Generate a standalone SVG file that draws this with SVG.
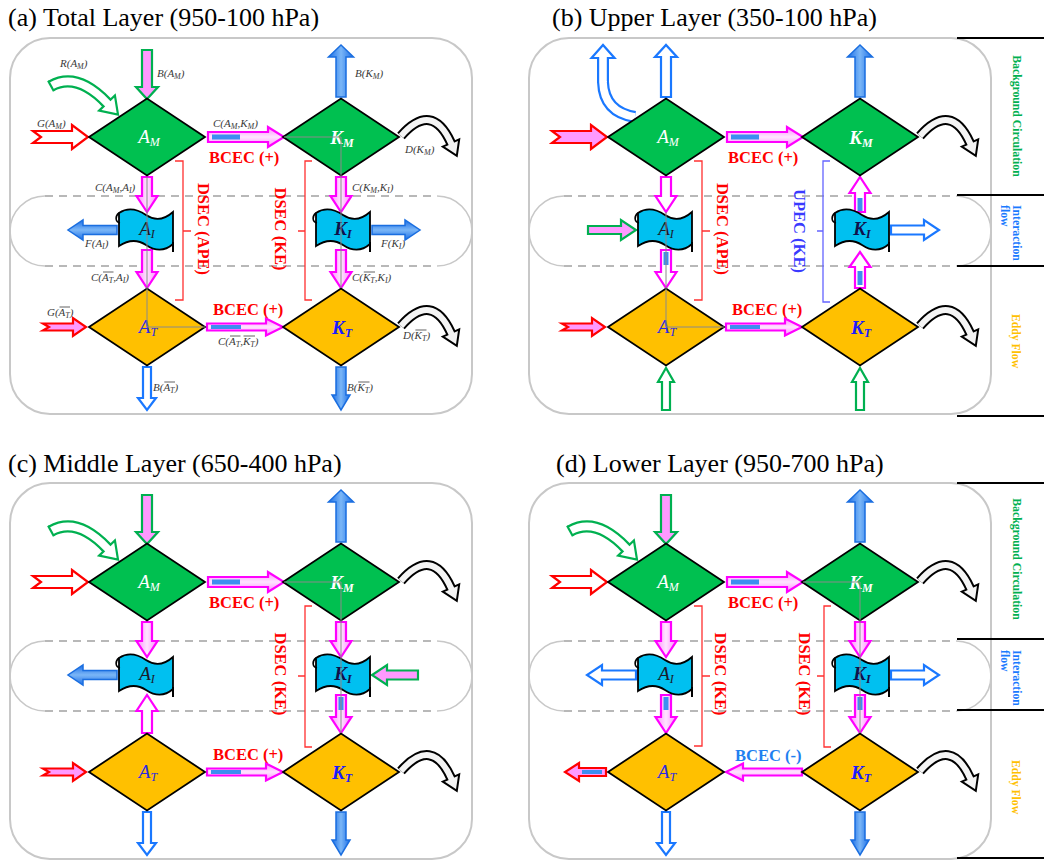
<svg xmlns="http://www.w3.org/2000/svg" xmlns:xlink="http://www.w3.org/1999/xlink" width="1044" height="861" viewBox="0 0 1044 861">
<defs>
<style>
.t{font-family:"Liberation Serif","Times New Roman",serif;}
.title{font-size:26px;fill:#000;}
.lbl{font-size:11px;font-style:italic;fill:#3a3a3a;}
.sub{font-size:8px;}
.box{fill:none;stroke:#c8c8c8;stroke-width:2;}
.dash{fill:none;stroke:#b8b8b8;stroke-width:2;stroke-dasharray:8 6;}
.arc{fill:none;stroke:#c8c8c8;stroke-width:1.6;}
.dg{fill:#00c050;stroke:#000;stroke-width:1.8;}
.do{fill:#ffc000;stroke:#000;stroke-width:1.8;}
.mg{fill:url(#gpV);stroke:#ff00ff;stroke-width:2.2;}
.mgw{fill:#fff;stroke:#ff00ff;stroke-width:2.2;}
.mgh{fill:url(#gpH);stroke:#ff00ff;stroke-width:2.2;}
.gp{fill:#ff99ff;stroke:#00b050;stroke-width:2.2;}
.gw{fill:#fff;stroke:#00b050;stroke-width:2.2;}
.rw{fill:#fff;stroke:#ff0000;stroke-width:2.2;}
.rp{fill:#ff99ff;stroke:#ff0000;stroke-width:2.2;}
.bf{fill:url(#gbV);stroke:#1a6ee0;stroke-width:1.5;}
.bfh{fill:url(#gbH);stroke:#1a6ee0;stroke-width:1.5;}
.bw{fill:#fff;stroke:#1a78ff;stroke-width:2.2;}
.bar{fill:#3d8ef0;}
.gl{stroke:#8a8a8a;stroke-width:1;fill:none;}
.brR{fill:none;stroke:#ff3030;stroke-width:1.3;}
.brB{fill:none;stroke:#6464ff;stroke-width:1.3;}
.red{font-size:16.5px;font-weight:bold;fill:#ff0000;}
.blu{font-size:16.5px;font-weight:bold;fill:#3a3aff;}
.side{font-size:11.7px;font-weight:bold;}
.nl{font-size:19px;font-style:italic;}
.ns{font-size:12px;}
.ol{stroke:#3a3a3a;stroke-width:0.8;}
.blk{stroke:#000;stroke-width:2;fill:none;}
</style>
<linearGradient id="gbV" x1="0" y1="0" x2="1" y2="0"><stop offset="0" stop-color="#1c6ee6"/><stop offset="0.5" stop-color="#7ab6f7"/><stop offset="1" stop-color="#1c6ee6"/></linearGradient>
<linearGradient id="gbH" x1="0" y1="0" x2="0" y2="1"><stop offset="0" stop-color="#1c6ee6"/><stop offset="0.5" stop-color="#7ab6f7"/><stop offset="1" stop-color="#1c6ee6"/></linearGradient>
<linearGradient id="gpV" x1="0" y1="0" x2="1" y2="0"><stop offset="0" stop-color="#ff8cff"/><stop offset="0.5" stop-color="#ffe4ff"/><stop offset="1" stop-color="#ff8cff"/></linearGradient>
<linearGradient id="gpH" x1="0" y1="0" x2="0" y2="1"><stop offset="0" stop-color="#ff8cff"/><stop offset="0.5" stop-color="#ffe4ff"/><stop offset="1" stop-color="#ff8cff"/></linearGradient>
<path id="dia" d="M-58,0 L0,-38.5 L58,0 L0,38.5 Z"/>
<g id="flagG">
<path d="M-27,-17 C-18,-23 -9,-21 0,-15 C9,-9 18,-10 27,-18 L27,14 C18,22 9,21 0,15 C-9,9 -18,10 -27,16 Z" fill="#00c0f0" stroke="#000" stroke-width="1.8"/>
<path d="M-27,-17 C-31,-14 -31,-8 -26,-7" fill="none" stroke="#000" stroke-width="1.6"/>
<path d="M27,12 V22" stroke="#000" stroke-width="2"/>
</g>
<g id="darr">
<path d="M3,-1 Q34,-36 53,6" fill="none" stroke="#000" stroke-width="10"/>
<path d="M61.2,2.3 L58.8,18.8 L44.8,9.7 Z" fill="#f4f4f4" stroke="#000" stroke-width="2"/>
<path d="M3,-1 Q34,-36 53,6 L54.6,9.6" fill="none" stroke="#f4f4f4" stroke-width="6"/>
</g>
<g id="rarr">
<path d="M51,86 Q77,71.5 107,103" fill="none" stroke="#00b050" stroke-width="12"/>
<path d="M114.9,95.4 L118,114.5 L99.1,110.6 Z" fill="#fff" stroke="#00b050" stroke-width="2.2"/>
<path d="M51,86 Q77,71.5 107,103 L109.8,105.9" fill="none" stroke="#fff" stroke-width="7.6"/>
<path d="M53.9,91.2 L48.1,80.8" stroke="#00b050" stroke-width="2.2"/>
</g>
<g id="frame">
<rect class="box" x="10" y="38" width="462" height="376" rx="40"/>
<path class="dash" d="M45,196 H437 M45,266 H437"/>
<path class="arc" d="M45,196 A35,35 0 0 0 45,266 M437,196 A35,35 0 0 1 437,266"/>
</g>
</defs>
<rect width="1044" height="861" fill="#fff"/>

<!-- ===================== PANEL A ===================== -->
<g id="panel-a">
<text class="t title" x="8" y="26">(a) Total Layer (950-100 hPa)</text>
<use href="#frame"/>
<g id="a-connectors">
<path class="gp" d="M142,50 H152 V87 H158 L147,99 L136,87 H142 Z"/>
<use href="#rarr"/>
<path class="rw" d="M33,131 H72 V125 L88,137 L72,149 V143 H33 L41,137 Z"/>
<path class="mgh" d="M208,132 H268 V127 L284,137 L268,147 V142 H208 Z"/>
<rect class="bar" x="212" y="134.5" width="28" height="5"/>
<path class="mg" d="M142,177 H152 V196 H157.5 L147,212 L136.5,196 H142 Z"/>
<path class="bfh" d="M117,225.5 V234.5 H83 V240 L68,230 L83,220 V225.5 Z"/>
<path class="mg" d="M142,250 H152 V272 H157.5 L147,288 L136.5,272 H142 Z"/>
<path class="rp" d="M43,323.5 H73 V318 L86,327 L73,336 V330.5 H43 L49,327 Z"/>
<path class="mgh" d="M207,323.5 H266 V318.5 L283,327 L266,335.5 V330.5 H207 Z"/>
<rect class="bar" x="211" y="325" width="30" height="4"/>
<path class="bw" d="M143,367 H151 V398 H156 L147,410 L138,398 H143 Z"/>
<path class="bf" d="M336,97 V57 H328.5 L341,45 L353.5,57 H346 V97 Z"/>
<use href="#darr" transform="translate(398,137)"/>
<path class="mg" d="M336,177 H346 V196 H351.5 L341,212 L330.5,196 H336 Z"/>
<path class="bfh" d="M372,225.5 H405 V220 L420,230 L405,240 V234.5 H372 Z"/>
<path class="mg" d="M336,250 H346 V272 H351.5 L341,288 L330.5,272 H336 Z"/>
<use href="#darr" transform="translate(398,327)"/>
<path class="bf" d="M336,367 V395 H332 L341,410 L350,395 H346 V367 Z"/>
<path class="brR" d="M175,161 H183 V300 H175 M183,231 H191"/>
<path class="brR" d="M312,161 H305 V300 H312 M305,231 H298"/>
<text class="t red" transform="translate(197.5,229) rotate(90)" text-anchor="middle">DSEC (APE)</text>
<text class="t red" transform="translate(274.5,229) rotate(90)" text-anchor="middle">DSEC (KE)</text>
<text class="t red" x="209" y="163">BCEC (+)</text>
<text class="t red" x="213" y="315">BCEC (+)</text>
<text class="t lbl" x="60" y="67">R(A<tspan class="sub" dy="2">M</tspan><tspan dy="-2">)</tspan></text>
<text class="t lbl" x="157" y="77">B(A<tspan class="sub" dy="2">M</tspan><tspan dy="-2">)</tspan></text>
<text class="t lbl" x="37" y="127">G(A<tspan class="sub" dy="2">M</tspan><tspan dy="-2">)</tspan></text>
<text class="t lbl" x="213" y="127">C(A<tspan class="sub" dy="2">M</tspan><tspan dy="-2">,K</tspan><tspan class="sub" dy="2">M</tspan><tspan dy="-2">)</tspan></text>
<text class="t lbl" x="95" y="191">C(A<tspan class="sub" dy="2">M</tspan><tspan dy="-2">,A</tspan><tspan class="sub" dy="2">I</tspan><tspan dy="-2">)</tspan></text>
<text class="t lbl" x="85" y="247">F(A<tspan class="sub" dy="2">I</tspan><tspan dy="-2">)</tspan></text>
<text class="t lbl" x="91" y="281">C(A<tspan class="sub" dy="2">T</tspan><tspan dy="-2">,A</tspan><tspan class="sub" dy="2">I</tspan><tspan dy="-2">)</tspan></text>
<path class="ol" d="M103,272 H113.5"/>
<text class="t lbl" x="47" y="316">G(A<tspan class="sub" dy="2">T</tspan><tspan dy="-2">)</tspan></text>
<path class="ol" d="M59.5,307 H70"/>
<text class="t lbl" x="218" y="345">C(A<tspan class="sub" dy="2">T</tspan><tspan dy="-2">,K</tspan><tspan class="sub" dy="2">T</tspan><tspan dy="-2">)</tspan></text>
<path class="ol" d="M230,336 H240.5 M243.5,336 H255"/>
<text class="t lbl" x="153" y="391">B(A<tspan class="sub" dy="2">T</tspan><tspan dy="-2">)</tspan></text>
<path class="ol" d="M164.3,382 H175"/>
<text class="t lbl" x="355" y="77">B(K<tspan class="sub" dy="2">M</tspan><tspan dy="-2">)</tspan></text>
<text class="t lbl" x="405" y="153">D(K<tspan class="sub" dy="2">M</tspan><tspan dy="-2">)</tspan></text>
<text class="t lbl" x="352" y="191">C(K<tspan class="sub" dy="2">M</tspan><tspan dy="-2">,K</tspan><tspan class="sub" dy="2">I</tspan><tspan dy="-2">)</tspan></text>
<text class="t lbl" x="381" y="247">F(K<tspan class="sub" dy="2">I</tspan><tspan dy="-2">)</tspan></text>
<text class="t lbl" x="352" y="281">C(K<tspan class="sub" dy="2">T</tspan><tspan dy="-2">,K</tspan><tspan class="sub" dy="2">I</tspan><tspan dy="-2">)</tspan></text>
<path class="ol" d="M363.8,272 H375"/>
<text class="t lbl" x="403" y="339">D(K<tspan class="sub" dy="2">T</tspan><tspan dy="-2">)</tspan></text>
<path class="ol" d="M415.4,330 H426.5"/>
<text class="t lbl" x="347" y="391">B(K<tspan class="sub" dy="2">T</tspan><tspan dy="-2">)</tspan></text>
<path class="ol" d="M358.2,382 H369.5"/>
</g>
<g id="a-AM"><use href="#dia" x="147" y="137" class="dg"/><text class="t nl" x="149" y="143" fill="#fff" text-anchor="middle">A<tspan class="ns" dy="3">M</tspan></text></g>
<g id="a-KM"><use href="#dia" x="341" y="137" class="dg"/><text class="t nl" x="342" y="144" fill="#fff" font-weight="bold" text-anchor="middle">K<tspan class="ns" dy="3">M</tspan></text></g>
<g id="a-AI"><use href="#flagG" x="146" y="230"/><text class="t nl" x="147" y="235" fill="#1a1a2a" text-anchor="middle">A<tspan class="ns" dy="3">I</tspan></text></g>
<g id="a-KI"><use href="#flagG" x="343" y="230"/><text class="t nl" x="343" y="235" fill="#10104a" font-weight="bold" text-anchor="middle">K<tspan class="ns" dy="3">I</tspan></text></g>
<g id="a-AT"><use href="#dia" x="147" y="327" class="do"/><text class="t nl" x="148" y="333" fill="#2a2ae0" text-anchor="middle">A<tspan class="ns" dy="3">T</tspan></text></g>
<g id="a-KT"><use href="#dia" x="341" y="327" class="do"/><text class="t nl" x="342" y="334" fill="#1a1aff" font-weight="bold" text-anchor="middle">K<tspan class="ns" dy="3">T</tspan></text></g>
<path class="gl" d="M147,177 V327 H205 M284,137 H341 V288"/>
</g>

<!-- ===================== PANEL B ===================== -->
<g id="panel-b">
<text class="t title" x="552" y="26">(b) Upper Layer (350-100 hPa)</text>
<g transform="translate(519,0)">
<use href="#frame"/>
<g id="b-connectors">
<path class="bw" d="M142,97 V57 H136 L147,45 L158,57 H152 V97 Z"/>
<path d="M116,117 Q85,112 84,82 L84,58" fill="none" stroke="#1a78ff" stroke-width="12"/>
<path d="M72.5,58 L84,45 L95.5,58 Z" fill="#fff" stroke="#1a78ff" stroke-width="2.2"/>
<path d="M116,117 Q85,112 84,82 L84,56" fill="none" stroke="#fff" stroke-width="7.6"/>
<path class="rp" d="M33,131 H72 V125 L88,137 L72,149 V143 H33 L41,137 Z"/>
<path class="mgh" d="M208,132 H268 V127 L284,137 L268,147 V142 H208 Z"/>
<rect class="bar" x="212" y="134.5" width="28" height="5"/>
<path class="mgw" d="M142,177 H152 V196 H157.5 L147,212 L136.5,196 H142 Z"/>
<path class="gp" d="M69,226 H102 V220 L117,230 L102,240 V234 H69 Z"/>
<path class="mgw" d="M142,250 H152 V272 H157.5 L147,288 L136.5,272 H142 Z"/>
<rect class="bar" x="144.5" y="252" width="5" height="13"/>
<path class="rp" d="M43,323.5 H73 V318 L86,327 L73,336 V330.5 H43 L49,327 Z"/>
<path class="mgh" d="M207,323.5 H266 V318.5 L283,327 L266,335.5 V330.5 H207 Z"/>
<rect class="bar" x="211" y="325" width="30" height="4"/>
<path class="gw" d="M143,410 V382 H139 L147,368 L155,382 H151 V410 Z"/>
<path class="bf" d="M336,97 V57 H328.5 L341,45 L353.5,57 H346 V97 Z"/>
<use href="#darr" transform="translate(398,137)"/>
<path class="mgw" d="M336,212 V193 H330.5 L341,177 L351.5,193 H346 V212 Z"/>
<rect class="bar" x="338.5" y="198" width="5" height="13"/>
<path class="bw" d="M372,225.5 H405 V220 L420,230 L405,240 V234.5 H372 Z"/>
<path class="mgw" d="M336,288 V267 H330.5 L341,252 L351.5,267 H346 V288 Z"/>
<rect class="bar" x="338.5" y="271" width="5" height="14"/>
<use href="#darr" transform="translate(398,327)"/>
<path class="gw" d="M337,410 V382 H333 L341,368 L349,382 H345 V410 Z"/>
<path class="brR" d="M175,161 H183 V300 H175 M183,231 H191"/>
<path class="brB" d="M311,161 H304 V302 H311 M304,231 H298"/>
<text class="t red" transform="translate(197.5,229) rotate(90)" text-anchor="middle">DSEC (APE)</text>
<text class="t blu" transform="translate(275,231) rotate(90)" text-anchor="middle">UPEC (KE)</text>
<text class="t red" x="209" y="163">BCEC (+)</text>
<text class="t red" x="213" y="315">BCEC (+)</text>
</g>
<g id="b-AM"><use href="#dia" x="147" y="137" class="dg"/><text class="t nl" x="149" y="143" fill="#fff" text-anchor="middle">A<tspan class="ns" dy="3">M</tspan></text></g>
<g id="b-KM"><use href="#dia" x="341" y="137" class="dg"/><text class="t nl" x="342" y="144" fill="#fff" font-weight="bold" text-anchor="middle">K<tspan class="ns" dy="3">M</tspan></text></g>
<g id="b-AI"><use href="#flagG" x="146" y="230"/><text class="t nl" x="147" y="235" fill="#1a1a2a" text-anchor="middle">A<tspan class="ns" dy="3">I</tspan></text></g>
<g id="b-KI"><use href="#flagG" x="343" y="230"/><text class="t nl" x="343" y="235" fill="#10104a" font-weight="bold" text-anchor="middle">K<tspan class="ns" dy="3">I</tspan></text></g>
<g id="b-AT"><use href="#dia" x="147" y="327" class="do"/><text class="t nl" x="148" y="333" fill="#2a2ae0" text-anchor="middle">A<tspan class="ns" dy="3">T</tspan></text></g>
<g id="b-KT"><use href="#dia" x="341" y="327" class="do"/><text class="t nl" x="342" y="334" fill="#1a1aff" font-weight="bold" text-anchor="middle">K<tspan class="ns" dy="3">T</tspan></text></g>
<path class="gl" d="M147,212 V327 H205"/>
</g>
</g>

<!-- ===================== PANEL C ===================== -->
<g id="panel-c">
<text class="t title" x="8" y="472">(c) Middle Layer (650-400 hPa)</text>
<g transform="translate(0,445)">
<use href="#frame"/>
<g id="c-connectors">
<path class="gp" d="M142,50 H152 V87 H158 L147,99 L136,87 H142 Z"/>
<use href="#rarr"/>
<path class="rw" d="M33,131 H72 V125 L88,137 L72,149 V143 H33 L41,137 Z"/>
<path class="mgh" d="M208,132 H268 V127 L284,137 L268,147 V142 H208 Z"/>
<rect class="bar" x="212" y="134.5" width="28" height="5"/>
<path class="mg" d="M142,177 H152 V196 H157.5 L147,212 L136.5,196 H142 Z"/>
<path class="bfh" d="M117,225.5 V234.5 H83 V240 L68,230 L83,220 V225.5 Z"/>
<path class="mgw" d="M142,288 V266 H136.5 L147,250 L157.5,266 H152 V288 Z"/>
<path class="rp" d="M43,323.5 H73 V318 L86,327 L73,336 V330.5 H43 L49,327 Z"/>
<path class="mgh" d="M207,323.5 H266 V318.5 L283,327 L266,335.5 V330.5 H207 Z"/>
<rect class="bar" x="211" y="325" width="30" height="4"/>
<path class="bw" d="M143,367 H151 V398 H156 L147,410 L138,398 H143 Z"/>
<path class="bf" d="M336,97 V57 H328.5 L341,45 L353.5,57 H346 V97 Z"/>
<use href="#darr" transform="translate(398,137)"/>
<path class="mg" d="M336,177 H346 V196 H351.5 L341,212 L330.5,196 H336 Z"/>
<path class="gp" d="M418,225.5 H387 V220 L372,230 L387,240 V234.5 H418 Z"/>
<path class="mg" d="M336,250 H346 V272 H351.5 L341,288 L330.5,272 H336 Z"/>
<rect class="bar" x="338.5" y="252" width="5" height="13"/>
<use href="#darr" transform="translate(398,327)"/>
<path class="bf" d="M336,367 V395 H332 L341,410 L350,395 H346 V367 Z"/>
<path class="brR" d="M312,161 H305 V302 H312 M305,231 H298"/>
<text class="t red" transform="translate(274.5,229) rotate(90)" text-anchor="middle">DSEC (KE)</text>
<text class="t red" x="209" y="163">BCEC (+)</text>
<text class="t red" x="213" y="315">BCEC (+)</text>
</g>
<g id="c-AM"><use href="#dia" x="147" y="137" class="dg"/><text class="t nl" x="149" y="143" fill="#fff" text-anchor="middle">A<tspan class="ns" dy="3">M</tspan></text></g>
<g id="c-KM"><use href="#dia" x="341" y="137" class="dg"/><text class="t nl" x="342" y="144" fill="#fff" font-weight="bold" text-anchor="middle">K<tspan class="ns" dy="3">M</tspan></text></g>
<g id="c-AI"><use href="#flagG" x="146" y="230"/><text class="t nl" x="147" y="235" fill="#1a1a2a" text-anchor="middle">A<tspan class="ns" dy="3">I</tspan></text></g>
<g id="c-KI"><use href="#flagG" x="343" y="230"/><text class="t nl" x="343" y="235" fill="#10104a" font-weight="bold" text-anchor="middle">K<tspan class="ns" dy="3">I</tspan></text></g>
<g id="c-AT"><use href="#dia" x="147" y="327" class="do"/><text class="t nl" x="148" y="333" fill="#2a2ae0" text-anchor="middle">A<tspan class="ns" dy="3">T</tspan></text></g>
<g id="c-KT"><use href="#dia" x="341" y="327" class="do"/><text class="t nl" x="342" y="334" fill="#1a1aff" font-weight="bold" text-anchor="middle">K<tspan class="ns" dy="3">T</tspan></text></g>
<path class="gl" d="M284,137 H341 V288"/>
</g>
</g>

<!-- ===================== PANEL D ===================== -->
<g id="panel-d">
<text class="t title" x="556" y="472">(d) Lower Layer (950-700 hPa)</text>
<g transform="translate(519,445)">
<use href="#frame"/>
<g id="d-connectors">
<path class="gp" d="M142,50 H152 V87 H158 L147,99 L136,87 H142 Z"/>
<use href="#rarr"/>
<path class="rw" d="M33,131 H72 V125 L88,137 L72,149 V143 H33 L41,137 Z"/>
<path class="mgh" d="M208,132 H268 V127 L284,137 L268,147 V142 H208 Z"/>
<rect class="bar" x="212" y="134.5" width="28" height="5"/>
<path class="mg" d="M142,177 H152 V196 H157.5 L147,212 L136.5,196 H142 Z"/>
<path class="bw" d="M117,225.5 V234.5 H83 V240 L68,230 L83,220 V225.5 Z"/>
<path class="mg" d="M142,250 H152 V272 H157.5 L147,288 L136.5,272 H142 Z"/>
<rect class="bar" x="144.5" y="252" width="5" height="13"/>
<path class="rp" d="M87,323 H60 V318 L46,327 L60,336 V331 H87 Z"/>
<rect class="bar" x="63" y="325" width="20" height="4"/>
<path class="mgh" d="M283,323.5 H224 V318.5 L207,327 L224,335.5 V330.5 H283 Z"/>
<path class="bw" d="M143,367 H151 V398 H156 L147,410 L138,398 H143 Z"/>
<path class="bf" d="M336,97 V57 H328.5 L341,45 L353.5,57 H346 V97 Z"/>
<use href="#darr" transform="translate(398,137)"/>
<path class="mg" d="M336,177 H346 V196 H351.5 L341,212 L330.5,196 H336 Z"/>
<path class="bw" d="M372,225.5 H405 V220 L420,230 L405,240 V234.5 H372 Z"/>
<path class="mg" d="M336,250 H346 V272 H351.5 L341,288 L330.5,272 H336 Z"/>
<rect class="bar" x="338.5" y="252" width="5" height="13"/>
<use href="#darr" transform="translate(398,327)"/>
<path class="bf" d="M336,367 V395 H332 L341,410 L350,395 H346 V367 Z"/>
<path class="brR" d="M175,161 H183 V301 H175 M183,231 H191"/>
<path class="brR" d="M312,161 H305 V302 H312 M305,231 H298"/>
<text class="t red" transform="translate(196,229) rotate(90)" text-anchor="middle">DSEC (KE)</text>
<text class="t red" transform="translate(280,229) rotate(90)" text-anchor="middle">DSEC (KE)</text>
<text class="t red" x="209" y="163">BCEC (+)</text>
<text class="t" x="216" y="316" font-size="16.5" font-weight="bold" fill="#1f80f0">BCEC (-)</text>
</g>
<g id="d-AM"><use href="#dia" x="147" y="137" class="dg"/><text class="t nl" x="149" y="143" fill="#fff" text-anchor="middle">A<tspan class="ns" dy="3">M</tspan></text></g>
<g id="d-KM"><use href="#dia" x="341" y="137" class="dg"/><text class="t nl" x="342" y="144" fill="#fff" font-weight="bold" text-anchor="middle">K<tspan class="ns" dy="3">M</tspan></text></g>
<g id="d-AI"><use href="#flagG" x="146" y="230"/><text class="t nl" x="147" y="235" fill="#1a1a2a" text-anchor="middle">A<tspan class="ns" dy="3">I</tspan></text></g>
<g id="d-KI"><use href="#flagG" x="343" y="230"/><text class="t nl" x="343" y="235" fill="#10104a" font-weight="bold" text-anchor="middle">K<tspan class="ns" dy="3">I</tspan></text></g>
<g id="d-AT"><use href="#dia" x="147" y="327" class="do"/><text class="t nl" x="148" y="333" fill="#2a2ae0" text-anchor="middle">A<tspan class="ns" dy="3">T</tspan></text></g>
<g id="d-KT"><use href="#dia" x="341" y="327" class="do"/><text class="t nl" x="342" y="334" fill="#1a1aff" font-weight="bold" text-anchor="middle">K<tspan class="ns" dy="3">T</tspan></text></g>
<path class="gl" d="M284,137 H341 V288"/>
</g>
</g>

<!-- ===================== SIDE LEGENDS ===================== -->
<g id="side-b">
<path class="blk" d="M957,38 H1044 M957,195 H1044 M957,266 H1044 M957,416 H1044"/>
<text class="t side" fill="#00b050" transform="translate(1013,116) rotate(90)" text-anchor="middle">Background Circulation</text>
<text class="t side" fill="#1a7aff" font-size="11" transform="translate(1013,205) rotate(90)">Interaction</text>
<text class="t side" fill="#1a7aff" font-size="11" transform="translate(1000.5,205) rotate(90)">flow</text>
<text class="t side" fill="#ffc000" transform="translate(1012,341) rotate(90)" text-anchor="middle">Eddy Flow</text>
</g>
<g id="side-d">
<path class="blk" d="M957,483 H1044 M957,639 H1044 M957,710 H1044 M957,858 H1044"/>
<text class="t side" fill="#00b050" transform="translate(1013,559) rotate(90)" text-anchor="middle">Background Circulation</text>
<text class="t side" fill="#1a7aff" font-size="11" transform="translate(1013,650) rotate(90)">Interaction</text>
<text class="t side" fill="#1a7aff" font-size="11" transform="translate(1000.5,650) rotate(90)">flow</text>
<text class="t side" fill="#ffc000" transform="translate(1012,787) rotate(90)" text-anchor="middle">Eddy Flow</text>
</g>
</svg>
